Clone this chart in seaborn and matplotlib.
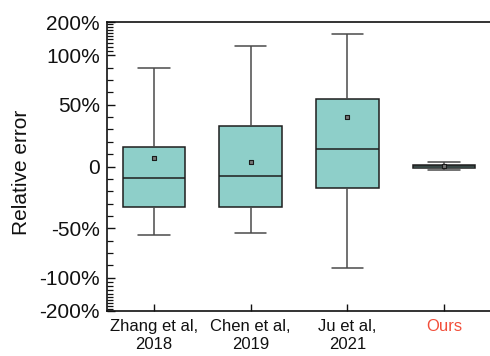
import numpy as np
import pandas as pd
import matplotlib
matplotlib.use("Agg")
import matplotlib.pyplot as plt
import seaborn as sns
from matplotlib.ticker import FixedLocator, FixedFormatter

# ---- data (relative error, %) ----
methods = ["Zhang et al,\n2018", "Chen et al,\n2019", "Ju et al,\n2021", "Ours"]
whisker_low = [-62, -60, -91, -3]
q1 = [-36.6, -36.6, -19.6, -1.0]
median = [-10.6, -8.5, 15.4, 0.5]
q3 = [17.8, 36.3, 60.5, 1.5]
whisker_high = [89, 122, 156, 4]
means = [7.9, 4.3, 44.4, 0.5]

ytick_vals = [-200, -100, -500 / 9, 0, 500 / 9, 100, 200]
ytick_labels = ["-200%", "-100%", "-50%", "0", "50%", "100%", "200%"]

rows = []
for m, a, b, c, d, e in zip(methods, whisker_low, q1, median, q3, whisker_high):
    for v in (a, b, c, d, e):
        rows.append({"method": m, "err": v})
df = pd.DataFrame(rows)
df_mean = pd.DataFrame({"method": methods, "err": means})

sns.set_style("ticks")
plt.rcParams["font.family"] = ["Liberation Sans", "DejaVu Sans"]

fig = plt.figure(figsize=(4.9, 3.56), dpi=100)
ax = fig.add_axes([107 / 490, 1 - 311 / 356, 1 - 107 / 490, (311 - 22) / 356])

box_fc = "#8ECFC9"
edge = "#1e1e1e"
wcol = "#4a4a4a"
sns.boxplot(data=df, x="method", y="err", order=methods, whis=np.inf,
            width=0.65, color=box_fc, linecolor=edge, linewidth=1.1,
            saturation=1, fliersize=0, ax=ax,
            whiskerprops=dict(color=wcol, linewidth=1.1),
            capprops=dict(color=wcol, linewidth=1.1),
            medianprops=dict(color=edge, linewidth=1.1))
sns.stripplot(data=df_mean, x="method", y="err", order=methods, jitter=False,
              marker="s", color="#777777", edgecolor="#1a1a1a", linewidth=0.8,
              size=2.4, zorder=6, ax=ax)

ax.set_yscale("symlog", linthresh=100, linscale=0.9)
ax.set_ylim(-200, 200)
ax.set_xlim(-0.486, 3.475)

ax.yaxis.set_major_locator(FixedLocator(ytick_vals))
ax.yaxis.set_major_formatter(FixedFormatter(ytick_labels))
minor = [k * 100 / 9 for k in range(-8, 9) if k not in (-5, 0, 5)]
minor += [s * v for s in (1, -1) for v in range(110, 200, 10)]
ax.yaxis.set_minor_locator(FixedLocator(minor))

ax.tick_params(axis="y", which="major", direction="in", length=6, width=1,
               labelsize=15, pad=5, colors="#111111")
ax.tick_params(axis="y", which="minor", direction="in", length=4, width=0.9,
               color="#111111")
ax.tick_params(axis="x", which="major", direction="in", length=5, width=1,
               labelsize=12, pad=6, colors="#111111")
ax.tick_params(axis="x", which="minor", bottom=False)

ax.spines["right"].set_visible(False)
for s in ("left", "bottom", "top"):
    ax.spines[s].set_linewidth(1.2)
    ax.spines[s].set_color("#111111")

ax.set_xlabel("")
ax.set_ylabel("Relative error", fontsize=15, color="#111111")
ax.yaxis.set_label_coords(-0.198, 0.48)
for lab in ax.get_xticklabels():
    lab.set_linespacing(1.25)
    if lab.get_text() == "Ours":
        lab.set_color("#F24E3A")

fig.savefig("out.png", dpi=100)
